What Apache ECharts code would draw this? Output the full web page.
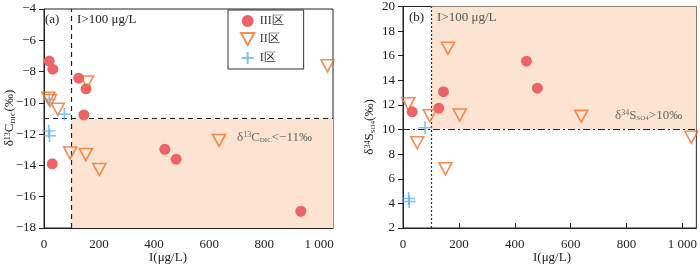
<!DOCTYPE html>
<html><head><meta charset="utf-8">
<script src="https://cdn.jsdelivr.net/npm/echarts@6/dist/echarts.min.js"></script>
<style>html,body{margin:0;padding:0;background:#fff}#c{width:700px;height:267px}</style>
</head><body><div id="c"></div>
<script>
// ---- data (a): I (μg/L) vs δ13C_DIC (‰)
const a_III = [[19,-7.33],[32,-7.85],[126,-8.42],[153,-9.1],[145,-10.77],[30,-13.9],[439,-12.97],[480,-13.6],[933,-16.93]];
const a_II  = [[1030,-7.63],[157,-8.66],[16,-9.7],[22,-9.85],[50,-10.41],[95,-13.2],[152,-13.3],[201,-14.26],[636,-12.4]];
const a_I   = [[19,-9.79],[74,-10.73],[17,-11.8],[20,-12.1]];
// ---- data (b): I (μg/L) vs δ34S_SO4 (‰)
const b_III = [[33,11.44],[128,11.74],[145,13.08],[442,15.56],[481,13.36]];
const b_II  = [[19,12.1],[96,11.12],[161,16.6],[203,11.18],[638,11.07],[1032,9.37],[51,8.92],[152,6.82]];
const b_I   = [[79,10.15],[20,4.4],[22,4.15]];
// thresholds and axis ticks
const iThreshold = 100;
const cThreshold = -11;
const sThreshold = 10;
const xTicks = [0,200,400,600,800,1000];
const seriesNames = ['III区','II区','I区'];

const FONT = '"Liberation Serif", "Times New Roman", serif';
const C_RED = '#ec6468', C_ORG = '#f0712c', C_BLUE = '#62b1e6', SHADE = '#fde3d1';
const TRI = 'path://M0,0L10,0L5,9Z';
const PLUS = 'path://M5,0L5,10M0,5L10,5';

function xAxis(gi){
  return {gridIndex:gi,type:'value',min:0,max:1050,interval:200,
    axisLine:{show:true,lineStyle:{color:'#222',width:1}},
    axisTick:{show:true,inside:true,length:5,lineStyle:{color:'#222'},customValues:xTicks},
    axisLabel:{fontFamily:FONT,fontSize:13,color:'#222',margin:10,customValues:xTicks,
      formatter:v=>v===1000?'1 000':String(v)},
    splitLine:{show:false}};
}
function yAxis(gi,min,max){
  return {gridIndex:gi,type:'value',min:min,max:max,interval:2,
    axisLine:{show:true,lineStyle:{color:'#222',width:1}},
    axisTick:{show:true,inside:false,length:5,lineStyle:{color:'#222'}},
    axisLabel:{fontFamily:FONT,fontSize:13,color:'#222',margin:8,
      formatter:v=>String(v).replace('-','\u2212')},
    splitLine:{show:false}};
}
const circ = (name,data,xi,extra)=>Object.assign({name,type:'scatter',xAxisIndex:xi,yAxisIndex:xi,data,
  symbol:'circle',symbolSize:11,itemStyle:{color:C_RED,opacity:1},z:5},extra||{});
const tri = (name,data,xi)=>({name,type:'scatter',xAxisIndex:xi,yAxisIndex:xi,data,
  symbol:TRI,symbolSize:[13,12],itemStyle:{color:'rgba(255,255,255,0)',borderColor:C_ORG,borderWidth:1.6},z:6});
const plus = (name,data,xi)=>({name,type:'scatter',xAxisIndex:xi,yAxisIndex:xi,data,
  symbol:PLUS,symbolSize:13,itemStyle:{color:'rgba(255,255,255,0)',borderColor:C_BLUE,borderWidth:1.6},z:7});

const RICH = (fill)=>({sup:{fontSize:8,verticalAlign:'top',fill:fill,color:fill,fontFamily:FONT,padding:[0,0,4,0]},
                       sub:{fontSize:7,verticalAlign:'bottom',fill:fill,color:fill,fontFamily:FONT}});
const option = {
  animation:false,
  backgroundColor:'#fff',
  textStyle:{fontFamily:FONT},
  grid:[
    {left:44,top:9,width:289,height:219,show:true,borderColor:'#222',borderWidth:1,backgroundColor:'transparent'},
    {left:403,top:5,width:296,height:223,show:true,borderColor:'#222',borderWidth:1,backgroundColor:'transparent'}
  ],
  xAxis:[xAxis(0),xAxis(1)],
  yAxis:[yAxis(0,-18,-4),yAxis(1,2,20)],
  legend:{
    data:seriesNames.map(n=>({name:n})),
    orient:'vertical',left:228,top:10,width:71,
    padding:[5,20,4,12],itemGap:5,itemWidth:14,itemHeight:12,
    borderColor:'#333',borderWidth:1,backgroundColor:'#fff',
    textStyle:{fontFamily:FONT,fontSize:12,color:'#333'},
    selectedMode:false
  },
  series:[
    circ(seriesNames[0],a_III,0,{
      markArea:{silent:true,itemStyle:{color:SHADE},data:[[{coord:[iThreshold,cThreshold]},{coord:[1050,-18]}]]},
    }),
    tri(seriesNames[1],a_II,0),
    plus(seriesNames[2],a_I,0),
    {type:'line',xAxisIndex:0,yAxisIndex:0,data:[],
      markLine:{silent:true,symbol:'none',label:{show:false},
        lineStyle:{color:'#222',type:[5,4],width:1.2},
        data:[[{coord:[iThreshold,-18]},{coord:[iThreshold,-4]}],[{coord:[0,cThreshold]},{coord:[1050,cThreshold]}]]}},
    circ(seriesNames[0],b_III,1,{
      markArea:{silent:true,itemStyle:{color:SHADE},data:[[{coord:[iThreshold,sThreshold]},{coord:[1050,20]}]]},
    }),
    tri(seriesNames[1],b_II,1),
    plus(seriesNames[2],b_I,1),
    {type:'line',xAxisIndex:1,yAxisIndex:1,data:[],
      markLine:{silent:true,symbol:'none',label:{show:false},
        data:[[{coord:[iThreshold,2],lineStyle:{color:'#333',type:[2,2],width:1.2}},{coord:[iThreshold,20]}],
              [{coord:[0,sThreshold],lineStyle:{color:'#222',type:[7,3,2,3],width:1.2}},{coord:[1050,sThreshold]}]]}}
  ],
  graphic:[
    {type:'text',left:45,top:13,z:100,style:{text:'(a)',fontFamily:FONT,fontSize:13,fill:'#222'}},
    {type:'text',left:77,top:13,z:100,style:{text:'I>100 μg/L',fontFamily:FONT,fontSize:13,fill:'#222'}},
    {type:'text',left:409,top:11,z:100,style:{text:'(b)',fontFamily:FONT,fontSize:13,fill:'#222'}},
    {type:'text',left:437,top:11,z:100,style:{text:'I>100 μg/L',fontFamily:FONT,fontSize:13,fill:'#555'}},
    {type:'text',left:237,top:131,z:100,style:{text:'δ{sup|13}C{sub|DIC}<−11‰',fontFamily:FONT,fontSize:13,fill:'#666',rich:RICH('#666')}},
    {type:'text',left:615,top:109,z:100,style:{text:'δ{sup|34}S{sub|SO4}>10‰',fontFamily:FONT,fontSize:13,fill:'#666',rich:RICH('#666')}},
    {type:'text',x:168,y:258,z:100,style:{text:'I(μg/L)',fontFamily:FONT,fontSize:13,fill:'#222',align:'center',verticalAlign:'middle'}},
    {type:'text',x:552,y:258,z:100,style:{text:'I(μg/L)',fontFamily:FONT,fontSize:13,fill:'#222',align:'center',verticalAlign:'middle'}},
    {type:'text',x:10,y:118,rotation:Math.PI/2,z:100,style:{text:'δ{sup|13}C{sub|DIC}(‰)',fontFamily:FONT,fontSize:13,fill:'#222',align:'center',verticalAlign:'middle',rich:RICH('#222')}},
    {type:'text',x:370,y:127,rotation:Math.PI/2,z:100,style:{text:'δ{sup|34}S{sub|SO4}(‰)',fontFamily:FONT,fontSize:13,fill:'#222',align:'center',verticalAlign:'middle',rich:RICH('#222')}}
  ]
};
const chart = echarts.init(document.getElementById('c'),null,{renderer:'canvas'});
chart.setOption(option);
</script></body></html>
